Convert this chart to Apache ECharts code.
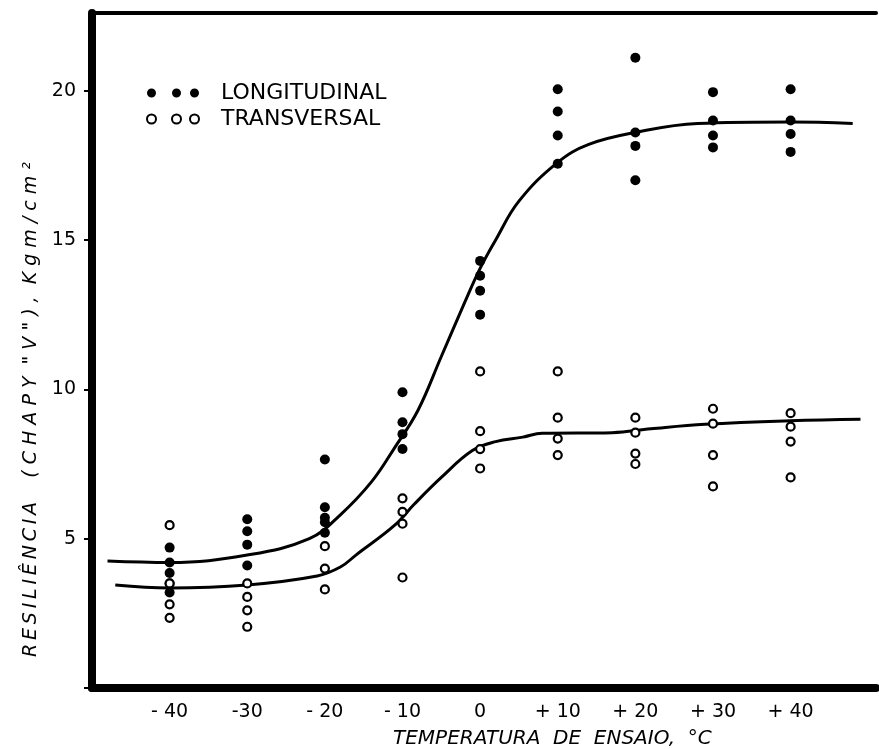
<!DOCTYPE html>
<html>
<head>
<meta charset="utf-8">
<script src="https://cdn.jsdelivr.net/npm/echarts@6/dist/echarts.min.js"></script>
<style>html,body{margin:0;padding:0;background:#fff}#c{width:879px;height:749px}</style>
</head>
<body>
<div id="c"></div>
<script>
// ---- data ----
var xTickValues = [-40, -30, -20, -10, 0, 10, 20, 30, 40];
var xTickLabels = ['- 40', '-30', '- 20', '- 10', '0', '+ 10', '+ 20', '+ 30', '+ 40'];
var yTickLabels = ['', '5', '10', '15', '20'];

var longTemps = [-40,-40,-40,-40,-40, -30,-30,-30,-30, -20,-20,-20,-20,-20, -10,-10,-10,-10, 0,0,0,0, 10,10,10,10, 20,20,20,20, 30,30,30,30, 40,40,40,40];
var longValues = [4.7,4.2,3.85,3.5,3.2, 5.65,5.25,4.8,4.1, 7.65,6.05,5.7,5.55,5.2, 9.9,8.9,8.5,8.0, 14.3,13.8,13.3,12.5, 20.05,19.3,18.5,17.55, 21.1,18.6,18.15,17.0, 19.95,19.0,18.5,18.1, 20.05,19.0,18.55,17.95];

var transTemps = [-40,-40,-40,-40, -30,-30,-30,-30, -20,-20,-20, -10,-10,-10,-10, 0,0,0,0, 10,10,10,10, 20,20,20,20, 30,30,30,30, 40,40,40,40];
var transValues = [5.45,3.5,2.8,2.35, 3.5,3.05,2.6,2.05, 4.75,4.0,3.3, 6.35,5.9,5.5,3.7, 10.6,8.6,8.0,7.35, 10.6,9.05,8.35,7.8, 9.05,8.55,7.85,7.5, 9.35,8.85,7.8,6.75, 9.2,8.75,8.25,7.05];

var longCurveT = [-48,-40,-30,-22,-18,-14,-11,-8,-5,-2,0,2,5,10,14,20,28,40,48];
var longCurveV = [4.25,4.2,4.45,5.0,5.8,6.9,8.05,9.3,11.1,12.9,14.05,15.0,16.3,17.6,18.2,18.6,18.9,18.95,18.9];

var transCurveT = [-47,-40,-30,-21,-18,-16,-11,-8.5,-5,-1,2,5.5,8,17,22,29,40,49];
var transCurveV = [3.45,3.35,3.45,3.75,4.05,4.45,5.45,6.15,7.05,7.95,8.25,8.4,8.53,8.55,8.68,8.83,8.95,9.0];

function zip(a, b) { return a.map(function (v, i) { return [v, b[i]]; }); }

var labelMap = {};
xTickValues.forEach(function (v, i) { labelMap[v] = xTickLabels[i]; });

var FONT = 'DejaVu Sans';
var TS = '\u2009';
var yName = 'RESILIÊNCIA'.split('').join(TS) + '    ' + '( C H A P Y  " V " ) ,  K g m / c m ²';
var threeDots = 'path://M0,5a4.5,4.5 0 1,0 9,0a4.5,4.5 0 1,0 -9,0Z M25,5a4.5,4.5 0 1,0 9,0a4.5,4.5 0 1,0 -9,0Z M43,5a4.5,4.5 0 1,0 9,0a4.5,4.5 0 1,0 -9,0Z';

var chart = echarts.init(document.getElementById('c'), null, {renderer: 'canvas'});
chart.setOption({
  animation: false,
  backgroundColor: '#fff',
  grid: {left: 92, right: -7, top: 13, bottom: 61, containLabel: false},
  title: {
    text: 'TEMPERATURA  DE  ENSAIO,  °C',
    left: 393, top: 729, padding: 0,
    textStyle: {fontFamily: FONT, fontStyle: 'italic', fontWeight: 'normal', fontSize: 20, color: '#000'}
  },
  legend: {
    orient: 'vertical', left: 146, top: 82, padding: 0,
    itemWidth: 52, itemHeight: 9, itemGap: 4,
    data: ['LONGITUDINAL', 'TRANSVERSAL'],
    textStyle: {fontFamily: FONT, fontSize: 22, color: '#000', padding: [0, 0, 0, 17]},
    icon: threeDots
  },
  xAxis: [{
    type: 'value', min: -50, max: 51, interval: 10,
    axisLine: {show: true, onZero: false, lineStyle: {color: '#000', width: 8}},
    axisTick: {show: false},
    splitLine: {show: false},
    axisLabel: {
      margin: 15, fontFamily: FONT, fontSize: 19, color: '#000',
      formatter: function (v) { return labelMap[v] !== undefined ? labelMap[v] : ''; }
    }
  }, {
    type: 'value', position: 'top', min: -50, max: 51,
    axisLine: {show: true, onZero: false, lineStyle: {color: '#000', width: 4}},
    axisTick: {show: false}, axisLabel: {show: false}, splitLine: {show: false}
  }],
  yAxis: {
    type: 'value', min: 0, max: 22.6, interval: 5,
    name: yName,
    nameLocation: 'middle', nameGap: 46, nameRotate: 90,
    nameTextStyle: {fontFamily: FONT, fontStyle: 'italic', fontSize: 19, color: '#000', padding: [0, 118, 0, 0]},
    axisLine: {show: true, onZero: false, lineStyle: {color: '#000', width: 8}},
    axisTick: {show: true, inside: false, length: 8, lineStyle: {color: '#000', width: 2}},
    splitLine: {show: false},
    axisLabel: {
      margin: 16, fontFamily: FONT, fontSize: 19, color: '#000', showMaxLabel: false,
      formatter: function (v) { return yTickLabels[v / 5] || ''; }
    }
  },
  series: [{
    name: 'LONGITUDINAL-curve', type: 'line', smooth: 0.4, showSymbol: false, symbol: 'none',
    data: zip(longCurveT, longCurveV), lineStyle: {color: '#000', width: 3}, z: 1
  }, {
    name: 'TRANSVERSAL-curve', type: 'line', smooth: 0.4, showSymbol: false, symbol: 'none',
    data: zip(transCurveT, transCurveV), lineStyle: {color: '#000', width: 3}, z: 1
  }, {
    name: 'LONGITUDINAL', type: 'scatter', symbol: 'circle', symbolSize: 10,
    data: zip(longTemps, longValues),
    itemStyle: {color: '#000', opacity: 1}, z: 3
  }, {
    name: 'TRANSVERSAL', type: 'scatter', symbol: 'circle', symbolSize: 8,
    data: zip(transTemps, transValues),
    itemStyle: {color: '#fff', borderColor: '#000', borderWidth: 2.2, opacity: 1}, z: 4
  }]
});
</script>
</body>
</html>
